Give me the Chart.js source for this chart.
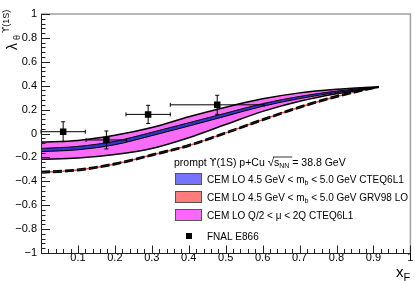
<!DOCTYPE html>
<html>
<head>
<meta charset="utf-8">
<script src="https://cdn.jsdelivr.net/npm/chart.js@4.4.0/dist/chart.umd.min.js"></script>
<style>
  html, body { margin: 0; padding: 0; background: #fff; }
  #c { display: block; }
</style>
</head>
<body>
<canvas id="c" width="415" height="281"></canvas>
<script>
// x_F grid of the model curves
const xF = [0, 0.1, 0.2, 0.3, 0.4, 0.5, 0.6, 0.7, 0.8, 0.915];
// CEM LO Q/2 < mu < 2Q CTEQ6L1 (magenta band)
const scaleHigh = [-0.072, -0.058, -0.015, 0.05, 0.14, 0.22, 0.29, 0.34, 0.37, 0.392];
const scaleLow = [-0.215, -0.205, -0.175, -0.125, -0.035, 0.075, 0.185, 0.27, 0.333, 0.386];
// CEM LO 4.5 < m_b < 5.0 CTEQ6L1 (blue band)
const massHigh = [-0.125, -0.108, -0.065, 0.01, 0.09, 0.17, 0.25, 0.31, 0.355, 0.391];
const massLow = [-0.152, -0.136, -0.094, -0.018, 0.062, 0.145, 0.228, 0.292, 0.343, 0.388];
// CEM LO 4.5 < m_b < 5.0 GRV98 LO (red band, dashed)
const grvHigh = [-0.319, -0.299, -0.249, -0.174, -0.094, 0.011, 0.121, 0.226, 0.316, 0.393];
const grvLow = [-0.331, -0.311, -0.261, -0.186, -0.106, -0.001, 0.109, 0.214, 0.304, 0.389];
// FNAL E866 points
const e866X = [0.06, 0.177, 0.29, 0.477];
const e866XErr = [0.06, 0.055, 0.06, 0.127];
const e866Y = [0.015, -0.054, 0.16, 0.24];
const e866YErr = [0.083, 0.075, 0.076, 0.08];
// axis ticks
const xTickValues = [0, 0.1, 0.2, 0.3, 0.4, 0.5, 0.6, 0.7, 0.8, 0.9, 1];
const xTickLabels = ['', '0.1', '0.2', '0.3', '0.4', '0.5', '0.6', '0.7', '0.8', '0.9', '1'];
const yTickValues = [-1, -0.8, -0.6, -0.4, -0.2, 0, 0.2, 0.4, 0.6, 0.8, 1];
const yTickLabels = ['\u22121', '\u22120.8', '\u22120.6', '\u22120.4', '\u22120.2', '0', '0.2', '0.4', '0.6', '0.8', '1'];

const FONT = "'Liberation Sans', Arial, sans-serif";
const canvas = document.getElementById('c');

// band colours (the dotted ROOT fills, averaged)
const pinkFill = '#f86cf8';
const blueFill = '#3434c8';
const redFill = '#f04848';
const blueBox = '#7474ff';
const redBox = '#ff7c7c';
const pinkBox = '#ff66ff';

const pts = ys => xF.map((x, i) => ({ x: x, y: ys[i] }));
const curve = { pointRadius: 0, borderColor: '#000', borderWidth: 1.5, cubicInterpolationMode: 'monotone' };

// draw text pieces one after another: {t, size, dy}
function rich(ctx, x, y, parts) {
    parts.forEach(p => {
        ctx.font = p.size + 'px ' + (p.family || FONT);
        ctx.fillText(p.t, x, y + (p.dy || 0));
        const w = ctx.measureText(p.t).width;
        if (p.over) {
            ctx.beginPath();
            ctx.lineWidth = 0.8;
            ctx.moveTo(x - 1, y - p.over);
            ctx.lineTo(x + w + p.overExtra, y - p.over);
            ctx.stroke();
        }
        x += w;
    });
    return x;
}

const decor = {
    id: 'decor',
    beforeDatasetsDraw(chart) {
        const ctx = chart.ctx, xs = chart.scales.x, ys = chart.scales.y;
        ctx.save();
        ctx.strokeStyle = '#000';
        ctx.lineWidth = 1;
        e866X.forEach((x, i) => {
            const px = xs.getPixelForValue(x), py = ys.getPixelForValue(e866Y[i]);
            const x0 = xs.getPixelForValue(x - e866XErr[i]), x1 = xs.getPixelForValue(x + e866XErr[i]);
            const y0 = ys.getPixelForValue(e866Y[i] - e866YErr[i]), y1 = ys.getPixelForValue(e866Y[i] + e866YErr[i]);
            ctx.beginPath();
            ctx.moveTo(x0, py); ctx.lineTo(x1, py);
            ctx.moveTo(px, y0); ctx.lineTo(px, y1);
            ctx.moveTo(x0, py - 2); ctx.lineTo(x0, py + 2);
            ctx.moveTo(x1, py - 2); ctx.lineTo(x1, py + 2);
            ctx.moveTo(px - 2, y0); ctx.lineTo(px + 2, y0);
            ctx.moveTo(px - 2, y1); ctx.lineTo(px + 2, y1);
            ctx.stroke();
        });
        ctx.restore();
    },
    afterDraw(chart) {
        const ctx = chart.ctx, xs = chart.scales.x, ys = chart.scales.y;
        const a = chart.chartArea;
        ctx.save();
        // frame
        ctx.lineWidth = 1.5;
        ctx.strokeStyle = '#a0a0a0';
        ctx.beginPath();
        ctx.moveTo(a.left, a.top); ctx.lineTo(a.right, a.top); ctx.lineTo(a.right, a.bottom);
        ctx.stroke();
        ctx.lineWidth = 1;
        ctx.strokeStyle = '#222';
        ctx.beginPath();
        ctx.moveTo(a.left + 0.5, a.top); ctx.lineTo(a.left + 0.5, a.bottom + 0.5); ctx.lineTo(a.right, a.bottom + 0.5);
        ctx.stroke();
        // ticks (inside, ROOT style)
        ctx.beginPath();
        for (let i = 0; i <= 50; i++) {
            const px = Math.round(xs.getPixelForValue(i * 0.02)) + 0.5;
            const len = i % 5 === 0 ? 7.5 : 4;
            ctx.moveTo(px, a.bottom); ctx.lineTo(px, a.bottom - len);
        }
        for (let i = 0; i <= 50; i++) {
            const py = Math.round(ys.getPixelForValue(-1 + i * 0.04)) + 0.5;
            const len = i % 5 === 0 ? 9 : 4.5;
            ctx.moveTo(a.left, py); ctx.lineTo(a.left + len, py);
        }
        ctx.stroke();

        ctx.fillStyle = '#000';
        ctx.strokeStyle = '#000';
        ctx.textBaseline = 'alphabetic';
        // x title
        rich(ctx, 396, 277, [{ t: 'x', size: 15 }, { t: 'F', size: 11, dy: 4 }]);
        // y title, rotated
        ctx.save();
        ctx.translate(17, 50);
        ctx.rotate(-Math.PI / 2);
        ctx.font = '14px ' + FONT;
        ctx.fillText('\u03bb', 0, 0);
        ctx.font = '9px ' + FONT;
        ctx.fillText('\u03b8', 10, 3);
        rich(ctx, 17, -8.5, [{ t: '\u03d2', size: 9, family: "'DejaVu Sans'" }, { t: '(1S)', size: 9 }]);
        ctx.restore();

        // legend
        rich(ctx, 174, 166, [
            { t: 'prompt ', size: 10.5 },
            { t: '\u03d2', size: 10, family: "'DejaVu Sans'" },
            { t: '(1S) p+Cu ', size: 10.5 },
            { t: '\u221a', size: 11.5 },
            { t: 's', size: 10.5, over: 9, overExtra: 13 },
            { t: 'NN', size: 7, dy: 2 },
            { t: ' = 38.8 GeV', size: 10.5 }
        ]);
        const boxes = [blueBox, redBox, pinkBox];
        const rows = [
            [{ t: 'CEM LO 4.5 GeV < m', size: 10 }, { t: 'b', size: 7, dy: 2 }, { t: ' < 5.0 GeV CTEQ6L1', size: 10 }],
            [{ t: 'CEM LO 4.5 GeV < m', size: 10 }, { t: 'b', size: 7, dy: 2 }, { t: ' < 5.0 GeV GRV98 LO', size: 10 }],
            [{ t: 'CEM LO Q/2 < \u03bc < 2Q CTEQ6L1', size: 10 }]
        ];
        const rowY = [179, 197, 215];
        rows.forEach((r, i) => {
            ctx.fillStyle = boxes[i];
            ctx.fillRect(175, rowY[i] - 6, 27, 12);
            ctx.strokeStyle = '#555';
            ctx.lineWidth = 1;
            ctx.strokeRect(175.5, rowY[i] - 5.5, 26, 11);
            ctx.fillStyle = '#000';
            rich(ctx, 207, rowY[i] + 4, r);
        });
        ctx.fillRect(186, 233, 6, 6);
        ctx.font = '10px ' + FONT;
        ctx.fillText('FNAL E866', 207, 240);
        ctx.restore();
    }
};

new Chart(canvas, {
    type: 'line',
    data: {
        datasets: [
            Object.assign({ data: pts(massHigh), fill: '+1', backgroundColor: blueFill, order: 1 }, curve, { borderWidth: 1 }),
            Object.assign({ data: pts(massLow), fill: false, order: 1 }, curve, { borderWidth: 1 }),
            Object.assign({ data: pts(scaleHigh), fill: '+1', backgroundColor: pinkFill, order: 2 }, curve),
            Object.assign({ data: pts(scaleLow), fill: false, order: 2 }, curve),
            Object.assign({ data: pts(grvHigh), fill: '+1', backgroundColor: redFill, borderDash: [9, 3], order: 1 }, curve),
            Object.assign({ data: pts(grvLow), fill: false, borderDash: [9, 3], order: 1 }, curve),
            {
                data: e866X.map((x, i) => ({ x: x, y: e866Y[i] })),
                showLine: false, pointStyle: 'rect', pointRadius: 4.6,
                pointBackgroundColor: '#000', pointBorderColor: '#000', pointBorderWidth: 0, order: 3
            }
        ]
    },
    options: {
        responsive: false,
        devicePixelRatio: 1,
        animation: false,
        layout: { padding: { left: 0, top: 14, right: 4, bottom: 0 } },
        plugins: {
            legend: { display: false },
            tooltip: { enabled: false },
            filler: { drawTime: 'beforeDatasetsDraw' }
        },
        scales: {
            x: {
                type: 'linear', min: 0, max: 1,
                afterFit(s) { s.height = 28; },
                afterBuildTicks(s) { s.ticks = xTickValues.map(v => ({ value: v })); },
                grid: { display: false, drawTicks: false },
                border: { display: false },
                ticks: {
                    color: '#000', padding: -2, maxRotation: 0, autoSkip: false,
                    font: { family: FONT, size: 11 },
                    callback: (v, i) => xTickLabels[i]
                }
            },
            y: {
                type: 'linear', min: -1, max: 1,
                afterFit(s) { s.width = 41; },
                afterBuildTicks(s) { s.ticks = yTickValues.map(v => ({ value: v })); },
                grid: { display: false, drawTicks: false },
                border: { display: false },
                ticks: {
                    color: '#000', padding: 4, autoSkip: false,
                    font: { family: FONT, size: 11 },
                    callback: (v, i) => yTickLabels[i]
                }
            }
        }
    },
    plugins: [decor]
});
</script>
</body>
</html>
